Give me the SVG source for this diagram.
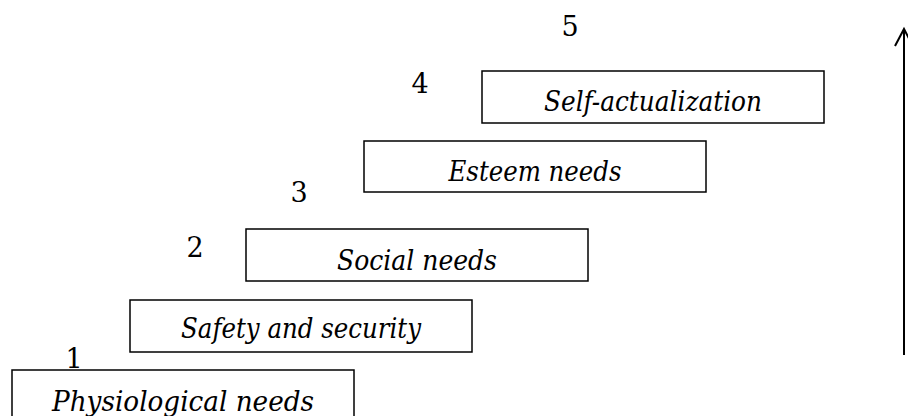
<svg xmlns="http://www.w3.org/2000/svg" width="908" height="416" viewBox="0 0 908 416">
  <defs>
    <style type="text/css">
      .box { fill: #ffffff; stroke: #000000; stroke-width: 1.5; }
      text { font-family: 'DejaVu Serif', 'Liberation Serif', serif; fill: #000000; text-anchor: middle; }
      .label { font-style: italic; font-size: 28px; }
      .num { font-size: 27px; }
      .arrow { fill: none; stroke: #000000; stroke-width: 2; }
    </style>
  </defs>
  <rect width="908" height="416" fill="#ffffff"/>

  <!-- level 1 -->
  <g id="level-1">
    <rect class="box" x="12" y="370" width="342" height="60"/>
    <text class="label" x="183" y="411" textLength="262" lengthAdjust="spacingAndGlyphs">Physiological needs</text>
    <text class="num" x="74" y="368">1</text>
  </g>

  <!-- level 2 -->
  <g id="level-2">
    <rect class="box" x="130" y="300" width="342" height="52"/>
    <text class="label" x="301" y="338" textLength="240" lengthAdjust="spacingAndGlyphs">Safety and security</text>
    <text class="num" x="195" y="257">2</text>
  </g>

  <!-- level 3 -->
  <g id="level-3">
    <rect class="box" x="246" y="229" width="342" height="52"/>
    <text class="label" x="417" y="270" textLength="160" lengthAdjust="spacingAndGlyphs">Social needs</text>
    <text class="num" x="299" y="202">3</text>
  </g>

  <!-- level 4 -->
  <g id="level-4">
    <rect class="box" x="364" y="141" width="342" height="51"/>
    <text class="label" x="535" y="181" textLength="173" lengthAdjust="spacingAndGlyphs">Esteem needs</text>
    <text class="num" x="420" y="93">4</text>
  </g>

  <!-- level 5 -->
  <g id="level-5">
    <rect class="box" x="482" y="71" width="342" height="52"/>
    <text class="label" x="653" y="111" textLength="218" lengthAdjust="spacingAndGlyphs">Self-actualization</text>
    <text class="num" x="570" y="36">5</text>
  </g>

  <!-- upward arrow -->
  <g id="connectors">
    <line class="arrow" x1="904" y1="355" x2="904" y2="30"/>
    <polyline class="arrow" points="895,46 904,29 913,46"/>
  </g>
</svg>
